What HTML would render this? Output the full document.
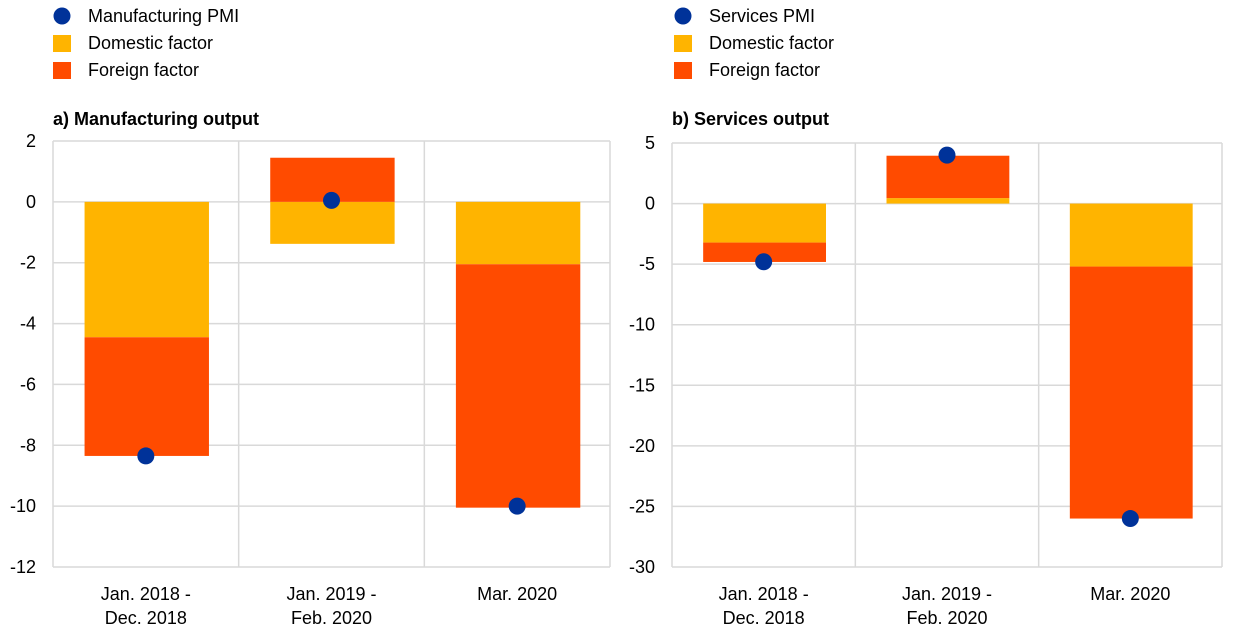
<!DOCTYPE html>
<html><head><meta charset="utf-8"><style>
body{margin:0;background:#fff;}
svg{display:block;font-family:"Liberation Sans",Arial,sans-serif;}
</style></head><body>
<svg id="c" width="1240" height="635"></svg>
<script>
const categories=[["Jan. 2018 -","Dec. 2018"],["Jan. 2019 -","Feb. 2020"],["Mar. 2020"]];
const mfgDomestic=[-4.45,-1.38,-2.05];
const mfgForeign=[-3.9,1.45,-8.0];
const mfgPMI=[-8.35,0.05,-10.0];
const mfgTicks=[2,0,-2,-4,-6,-8,-10,-12];
const srvDomestic=[-3.22,0.45,-5.2];
const srvForeign=[-1.6,3.5,-20.8];
const srvPMI=[-4.8,4.0,-26.0];
const srvTicks=[5,0,-5,-10,-15,-20,-25,-30];
const C={blue:"#003299",yel:"#FFB400",red:"#FF4B00",grid:"#d9d9d9"};
const svg=document.getElementById('c');
const NS="http://www.w3.org/2000/svg";
function el(t,a,p){const e=document.createElementNS(NS,t);for(const k in a)e.setAttribute(k,a[k]);(p||svg).appendChild(e);return e;}
function panel(o){
  const g=el('g',{});
  
  
  const y=v=>o.y0+(o.max-v)/(o.max-o.min)*(o.y1-o.y0);
  const bw=(o.x1-o.x0)/categories.length;
  // legend
  const lg=el('g',{},g);
  const items=[[o.pmiName,'c',C.blue],['Domestic factor','s',C.yel],['Foreign factor','s',C.red]];
  items.forEach((it,i)=>{
    const cy=16+i*27;
    const m=it[1]=='c'?el('circle',{cx:o.lx,cy:cy,r:8.5,fill:it[2]},lg):el('rect',{x:o.lx-9,y:cy-8,width:18,height:17,fill:it[2]},lg);
    
    const t=el('text',{x:o.lx+26,y:cy+6,'font-size':18,fill:'#000'},lg);t.textContent=it[0];
    
  });
  const ti=el('text',{x:o.x0,y:125,'font-size':18,'font-weight':'bold'},g);ti.textContent=o.title;
  
  // grid
  o.ticks.forEach(v=>{
    const l=el('line',{x1:o.x0,x2:o.x1,y1:y(v),y2:y(v),stroke:C.grid,'stroke-width':1.5},g);
    
    const t=el('text',{x:o.x0-17,y:y(v)+6,'font-size':18,'text-anchor':'end'},g);t.textContent=v;
    
  });
  for(let i=0;i<=categories.length;i++){
    const l=el('line',{x1:o.x0+i*bw,x2:o.x0+i*bw,y1:y(o.max),y2:y(o.min),stroke:C.grid,'stroke-width':1.5},g);
    
  }
  categories.forEach((c,i)=>{
    const x=o.x0+i*bw+bw*0.17,w=bw*0.67;
    const d=o.dom[i],f=o.for[i];
    const segs=[];
    segs.push([0,d,C.yel,'bar-domestic']);
    if(Math.sign(f)===Math.sign(d)) segs.push([d,d+f,C.red,'bar-foreign']); else segs.push([0,f,C.red,'bar-foreign']);
    segs.forEach(s=>{
      const a=y(s[0]),b=y(s[1]);
      const r=el('rect',{x:x,y:Math.min(a,b),width:w,height:Math.abs(b-a),fill:s[2]},g);
      
    });
    const p=el('circle',{cx:o.x0+i*bw+bw/2,cy:y(o.pmi[i]),r:8.5,fill:C.blue},g);
    
    c.forEach((ln,j)=>{
      const t=el('text',{x:o.x0+i*bw+bw/2,y:600+j*24,'font-size':18,'text-anchor':'middle'},g);t.textContent=ln;
      
    });
  });
}
panel({id:'manufacturing-panel',title:'a) Manufacturing output',pmiName:'Manufacturing PMI',x0:53,x1:610,y0:141,y1:567,max:2,min:-12,ticks:mfgTicks,dom:mfgDomestic,for:mfgForeign,pmi:mfgPMI,lx:62});
panel({id:'services-panel',title:'b) Services output',pmiName:'Services PMI',x0:672,x1:1222,y0:143,y1:567,max:5,min:-30,ticks:srvTicks,dom:srvDomestic,for:srvForeign,pmi:srvPMI,lx:683});
</script>
</body></html>
